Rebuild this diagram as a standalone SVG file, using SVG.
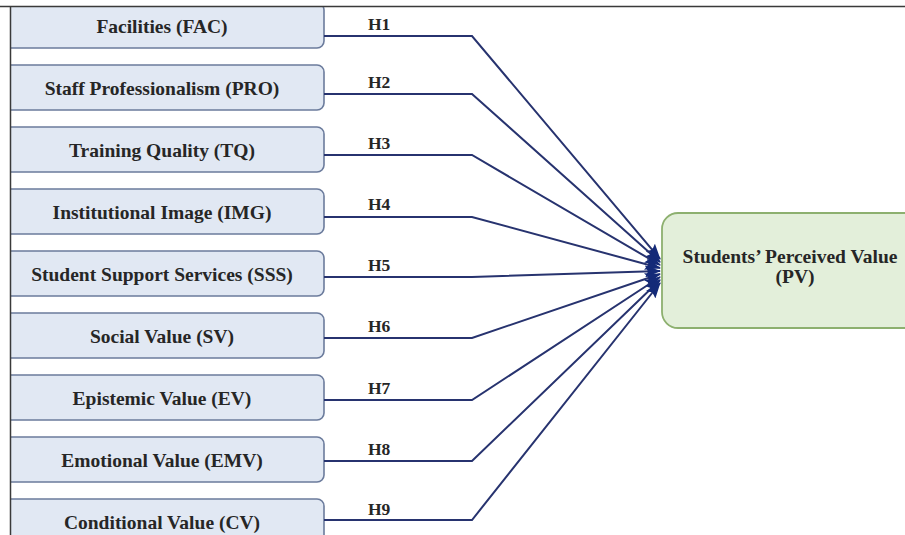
<svg xmlns="http://www.w3.org/2000/svg" width="905" height="535" viewBox="0 0 905 535">
<style>
.box{fill:#e1e8f3;stroke:#6b7b9c;stroke-width:1.6}
.lbl{font-family:"Liberation Serif","Times New Roman",serif;font-weight:bold;font-size:19.5px;fill:#262626;text-anchor:middle}
.h{font-family:"Liberation Serif","Times New Roman",serif;font-weight:bold;font-size:17.5px;fill:#262626}
.con{fill:none;stroke:#27336f;stroke-width:2;marker-end:url(#arr)}
.pv{fill:#e3efda;stroke:#8db06f;stroke-width:1.8}
</style>
<defs>
<marker id="arr" markerUnits="userSpaceOnUse" markerWidth="16" markerHeight="12" refX="15" refY="6" orient="auto">
<path d="M0,0 L16,6 L0,12 L3,6 Z" fill="#142a78"/>
</marker>
<clipPath id="frame"><rect x="10" y="6" width="895" height="529"/></clipPath>
</defs>
<rect width="905" height="535" fill="#ffffff"/>
<g clip-path="url(#frame)">
<g id="fac"><rect class="box" x="-4" y="3" width="328" height="45" rx="7"/><text class="lbl" x="162" y="33">Facilities (FAC)</text></g>
<g id="pro"><rect class="box" x="-4" y="65" width="328" height="45" rx="7"/><text class="lbl" x="162" y="95">Staff Professionalism (PRO)</text></g>
<g id="tq"><rect class="box" x="-4" y="127" width="328" height="45" rx="7"/><text class="lbl" x="162" y="157">Training Quality (TQ)</text></g>
<g id="img"><rect class="box" x="-4" y="189" width="328" height="45" rx="7"/><text class="lbl" x="162" y="219">Institutional Image (IMG)</text></g>
<g id="sss"><rect class="box" x="-4" y="251" width="328" height="45" rx="7"/><text class="lbl" x="162" y="281">Student Support Services (SSS)</text></g>
<g id="sv"><rect class="box" x="-4" y="313" width="328" height="45" rx="7"/><text class="lbl" x="162" y="343">Social Value (SV)</text></g>
<g id="ev"><rect class="box" x="-4" y="375" width="328" height="45" rx="7"/><text class="lbl" x="162" y="405">Epistemic Value (EV)</text></g>
<g id="emv"><rect class="box" x="-4" y="437" width="328" height="45" rx="7"/><text class="lbl" x="162" y="467">Emotional Value (EMV)</text></g>
<g id="cv"><rect class="box" x="-4" y="499" width="328" height="45" rx="7"/><text class="lbl" x="162" y="529">Conditional Value (CV)</text></g>
<g id="pv"><rect class="pv" x="662" y="213" width="262" height="115" rx="16"/><text class="lbl" x="790" y="263">Students’ Perceived Value</text><text class="lbl" x="795" y="283">(PV)</text></g>
<g id="connectors">
<path class="con" d="M324,36 H472 L660,259"/>
<path class="con" d="M324,94 H472 L660,262"/>
<path class="con" d="M324,155 H472 L660,265"/>
<path class="con" d="M324,217 H472 L660,268"/>
<path class="con" d="M324,277 H472 L660,271"/>
<path class="con" d="M324,338 H472 L660,274"/>
<path class="con" d="M324,400 H472 L660,277"/>
<path class="con" d="M324,461 H472 L660,280"/>
<path class="con" d="M324,520 H472 L660,283"/>
<text class="h" x="368" y="30">H1</text>
<text class="h" x="368" y="88">H2</text>
<text class="h" x="368" y="149">H3</text>
<text class="h" x="368" y="210">H4</text>
<text class="h" x="368" y="271">H5</text>
<text class="h" x="368" y="332">H6</text>
<text class="h" x="368" y="394">H7</text>
<text class="h" x="368" y="455">H8</text>
<text class="h" x="368" y="515">H9</text>
</g>
</g>
<path d="M0,6.5 H905 M10.5,6 V535" fill="none" stroke="#3a3a3a" stroke-width="1.5"/>
</svg>
